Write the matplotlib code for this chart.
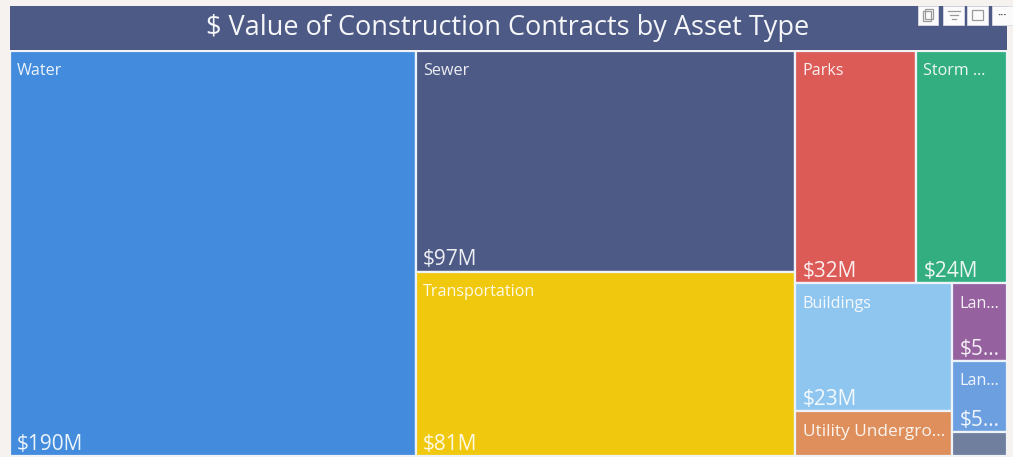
import matplotlib
matplotlib.use("Agg")
import matplotlib.pyplot as plt
from matplotlib.patches import Rectangle

plt.rcParams['font.family'] = ['Open Sans', 'DejaVu Sans']

title = "$ Value of Construction Contracts by Asset Type"
categories = ["Water", "Sewer", "Transportation", "Parks", "Storm ...", "Buildings",
              "Utility Undergro...", "Lan...", "Lan...", ""]
values = [190, 97, 81, 32.4, 24.4, 23.3, 8.1, 4.9, 4.5, 1.5]
value_labels = ["$190M", "$97M", "$81M", "$32M", "$24M", "$23M", "", "$5...", "$5...", ""]
colors = ["#438BDC", "#4E5A86", "#F0C80E", "#DC5B57", "#33AE81", "#8FC6EF",
          "#DE8F5B", "#95619F", "#6C9FE0", "#717F9E"]

W, H = 1013, 457
fig = plt.figure(figsize=(W / 100, H / 100), dpi=100, facecolor="#F6F2EF")
ax = fig.add_axes([10 / W, 1 / H, 997 / W, 405 / H])
ax.set_xlim(0, 1); ax.set_ylim(1, 0); ax.axis("off")

# treemap nesting: h = split along x, v = split along y; ints index into values
tree = ("h", [0,
              ("v", [1, 2]),
              ("v", [("h", [3, 4]),
                     ("h", [("v", [5, 6]),
                            ("v", [7, 8, 9])])])])


def total(n):
    return values[n] if isinstance(n, int) else sum(total(c) for c in n[1])


def layout(n, x, y, w, h):
    if isinstance(n, int):
        draw(n, x, y, w, h)
        return
    t = total(n)
    for c in n[1]:
        f = total(c) / t
        if n[0] == "h":
            layout(c, x, y, w * f, h)
            x += w * f
        else:
            layout(c, x, y, w, h * f)
            y += h * f


def draw(i, x, y, w, h):
    ax.add_patch(Rectangle((x, y), w, h, facecolor=colors[i], edgecolor="#EEF3F9", linewidth=1.6))
    if categories[i]:
        size = 12.4 if len(categories[i]) > 15 else 11.6
        ax.annotate(categories[i], (x, y), xytext=(5.2, -14.7), textcoords="offset points",
                    color="white", alpha=0.9, fontsize=size, va="center", ha="left")
    if value_labels[i]:
        ax.annotate(value_labels[i], (x, y + h), xytext=(5.2, 8.5), textcoords="offset points",
                    color="white", alpha=0.9, fontsize=15, va="center", ha="left")


layout(tree, 0, 0, 1, 1)

# title band
fig.patches.append(Rectangle((10 / W, 1 - 50 / H), 997 / W, 44 / H, transform=fig.transFigure,
                             facecolor="#4E5A86", edgecolor="none"))
fig.text(508 / W, 1 - 28 / H, title, color="white", alpha=0.95, fontsize=19.5, ha="center", va="center")

# visual header icons
for left, width in [(918, 20), (943, 21), (967, 21), (992, 21)]:
    fig.patches.append(Rectangle((left / W, 1 - 25 / H), width / W, 19 / H, transform=fig.transFigure,
                                 facecolor="#FBFBFB", edgecolor="#D8DBE4", linewidth=0.6))
for ix, iy, iw, ih in [(923, 11, 8, 10), (925, 9, 8, 10), (972, 10, 11, 10)]:
    fig.patches.append(Rectangle((ix / W, 1 - (iy + ih) / H), iw / W, ih / H, transform=fig.transFigure,
                                 facecolor="none", edgecolor="#9A9A9A", linewidth=0.9))
for lx0, lx1, ly in [(948, 960, 11), (950, 958, 15), (952, 956, 19)]:
    fig.add_artist(plt.Line2D([lx0 / W, lx1 / W], [1 - ly / H] * 2, color="#9A9A9A", linewidth=0.9))
fig.text(1002 / W, 1 - 15 / H, "···", color="#555555", fontsize=8, ha="center", va="center",
         fontweight="bold")

fig.savefig("out.png", dpi=100, facecolor=fig.get_facecolor())
